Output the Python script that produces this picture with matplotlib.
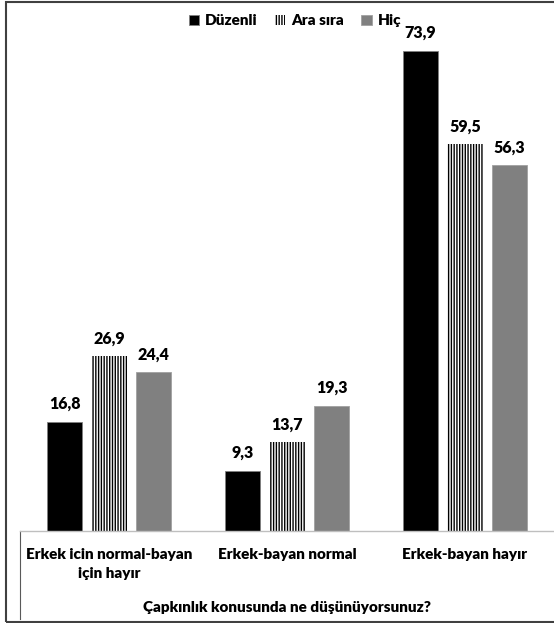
import numpy as np
import matplotlib
import matplotlib.pyplot as plt
from matplotlib.patches import Rectangle
from matplotlib.lines import Line2D

matplotlib.use("Agg")

plt.rcParams["font.family"] = ["Lato", "DejaVu Sans"]
plt.rcParams["font.weight"] = "bold"
plt.rcParams["hatch.linewidth"] = 1.0

categories = ["Erkek icin normal-bayan\niçin hayır", "Erkek-bayan normal", "Erkek-bayan hayır"]
series_names = ["Düzenli", "Ara sıra", "Hiç"]
duzenli = [16.8, 9.3, 73.9]
ara_sira = [26.9, 13.7, 59.5]
hic = [24.4, 19.3, 56.3]

fig = plt.figure(figsize=(5.54, 6.23), dpi=100)
ax = fig.add_axes([0.0361, 0.1477, 0.9639, 0.8346])

x = np.arange(len(categories))
w = 0.197
step = 0.25
b1 = ax.bar(x - step, duzenli, w, color="black", edgecolor="#7f7f7f", linewidth=0.6, label=series_names[0])
b2 = ax.bar(x, ara_sira, w, color="white", edgecolor="black", hatch="||||||", linewidth=0, label=series_names[1])
b3 = ax.bar(x + step, hic, w, color="#808080", edgecolor="#a0a0a0", linewidth=0.6, label=series_names[2])

for bars, vals in [(b1, duzenli), (b2, ara_sira), (b3, hic)]:
    for rect, v in zip(bars, vals):
        ax.annotate(f"{v:.1f}".replace(".", ","),
                    (rect.get_x() + rect.get_width() / 2, rect.get_height()),
                    xytext=(0, 7), textcoords="offset points",
                    ha="center", va="bottom", fontsize=11.5, fontweight="heavy")

ax.set_xlim(-0.5, 2.5)
ax.set_ylim(0, 80)
ax.set_yticks([])
ax.set_xticks(x)
ax.set_xticklabels(categories, fontsize=11, fontweight="heavy", linespacing=1.55)
ax.tick_params(axis="x", length=0, pad=12)
for s in ["top", "right", "left"]:
    ax.spines[s].set_visible(False)
ax.spines["bottom"].set_color("#bfbfbf")
ax.spines["bottom"].set_linewidth(1.0)

# left category separator line under the axis
ax.add_line(Line2D([0, 0], [0, -0.17], transform=ax.transAxes, color="#595959",
                   linewidth=0.8, clip_on=False))

ax.set_xlabel("Çapkınlık konusunda ne düşünüyorsunuz?", fontsize=11, fontweight="heavy", labelpad=15)

leg = ax.legend(loc="upper center", bbox_to_anchor=(0.515, 1.02), ncol=3, frameon=False,
                fontsize=11, handlelength=0.7, handleheight=0.7, handletextpad=0.4,
                columnspacing=1.1)
for t in leg.get_texts():
    t.set_fontweight("heavy")

fig.patches.append(Rectangle((6 / 554, 1 / 623), 1.1, 620 / 623, transform=fig.transFigure,
                             fill=False, edgecolor="#404040", linewidth=1.5))

fig.savefig("out.png", dpi=100)
